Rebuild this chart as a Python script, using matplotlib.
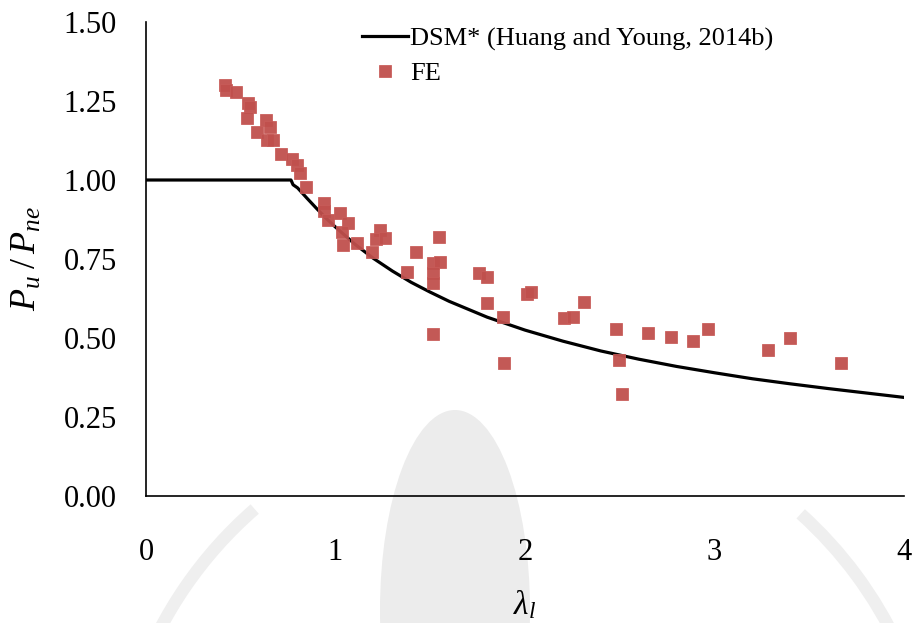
import matplotlib
matplotlib.use("Agg")
import matplotlib.pyplot as plt
from matplotlib.patches import Ellipse, Arc

# FE results: slenderness and normalised strength
fe_lambda = [0.416, 0.422, 0.475, 0.540, 0.549, 0.531, 0.632, 0.654, 0.584, 0.637,
             0.672, 0.715, 0.773, 0.797, 0.814, 0.843, 0.941, 0.937, 1.024, 0.962,
             1.068, 1.033, 1.041, 1.112, 1.237, 1.215, 1.261, 1.191, 1.425, 1.548,
             1.516, 1.549, 1.516, 1.516, 1.516, 1.376, 1.759, 1.798, 1.801, 1.885,
             1.889, 2.009, 2.030, 2.207, 2.251, 2.312, 2.480, 2.497, 2.513, 2.650,
             2.769, 2.888, 2.967, 3.281, 3.397, 3.666]
fe_ratio = [1.300, 1.284, 1.279, 1.243, 1.232, 1.197, 1.190, 1.168, 1.153, 1.127,
            1.127, 1.081, 1.066, 1.047, 1.021, 0.978, 0.927, 0.903, 0.894, 0.875,
            0.863, 0.835, 0.794, 0.802, 0.843, 0.812, 0.816, 0.772, 0.773, 0.821,
            0.736, 0.739, 0.705, 0.673, 0.513, 0.710, 0.705, 0.694, 0.610, 0.566,
            0.420, 0.639, 0.645, 0.562, 0.567, 0.613, 0.528, 0.430, 0.322, 0.515,
            0.502, 0.491, 0.529, 0.463, 0.500, 0.421]

# DSM* design curve
dsm_lambda = [0.0, 0.765, 0.776, 0.80, 0.85, 0.90, 0.95, 1.00, 1.10, 1.20, 1.30,
              1.40, 1.50, 1.60, 1.80, 2.00, 2.20, 2.40, 2.60, 2.80, 3.00, 3.20,
              3.40, 3.60, 3.80, 4.00]
dsm_ratio = [1.000, 1.000, 0.985, 0.975, 0.942, 0.910, 0.879, 0.851, 0.798, 0.752,
             0.712, 0.676, 0.645, 0.616, 0.566, 0.525, 0.490, 0.459, 0.433, 0.410,
             0.390, 0.371, 0.355, 0.340, 0.326, 0.312]

x_ticks = [0, 1, 2, 3, 4]
y_ticks = [0.00, 0.25, 0.50, 0.75, 1.00, 1.25, 1.50]

plt.rcParams['font.family'] = ['Liberation Serif', 'DejaVu Serif']
plt.rcParams['mathtext.fontset'] = 'custom'
plt.rcParams['mathtext.rm'] = 'Liberation Serif'
plt.rcParams['mathtext.it'] = 'Liberation Serif:italic'

W, H = 916, 623
fig = plt.figure(figsize=(W / 100, H / 100), dpi=100)

# faint background seal
bg = fig.add_axes([0, 0, 1, 1], zorder=-10)
bg.set_xlim(0, W)
bg.set_ylim(H, 0)
bg.axis('off')
grey = '#ececec'
bg.add_patch(Ellipse((455, 610), 150, 400, color=grey, lw=0))
bg.add_patch(Arc((525, 820), 824, 824, theta1=200, theta2=229, color='#efefef', lw=9))
bg.add_patch(Arc((525, 820), 824, 824, theta1=312, theta2=335, color='#efefef', lw=9))

ax = fig.add_axes([146 / W, 1 - 496 / H, (904 - 146) / W, (496 - 22) / H])
ax.patch.set_alpha(0)

ax.plot(dsm_lambda, dsm_ratio, color='black', lw=2.3, solid_joinstyle='round',
        label='DSM* (Huang and Young, 2014b)', zorder=2)
ax.plot(fe_lambda, fe_ratio, ls='none', marker='s', ms=9, color='#c0504d',
        mec='#c85c59', mew=0.6, alpha=0.95, label='FE', zorder=3)

ax.set_xlim(0, 4)
ax.set_ylim(0, 1.5)
ax.set_xticks(x_ticks)
ax.set_yticks(y_ticks)
ax.set_xticklabels([str(v) for v in x_ticks])
ax.set_yticklabels([f'{v:.2f}' for v in y_ticks])
ax.tick_params(length=0, labelsize=22, pad=21)
ax.tick_params(axis='x', pad=30)

for side in ('top', 'right'):
    ax.spines[side].set_visible(False)
for side in ('left', 'bottom'):
    ax.spines[side].set_linewidth(1.2)

ax.set_xlabel(r'$\lambda_l$', fontsize=24, labelpad=16)
ax.set_ylabel(r'$P_u\;/\,P_{ne}$', fontsize=26, labelpad=14)

leg = ax.legend(loc='upper left', bbox_to_anchor=(362 / W, 1 - 27 / H),
                bbox_transform=fig.transFigure, frameon=False, fontsize=19,
                handlelength=1.75, handletextpad=0.08, labelspacing=0.4,
                borderpad=0, borderaxespad=0)

fig.savefig('out.png', dpi=100)
